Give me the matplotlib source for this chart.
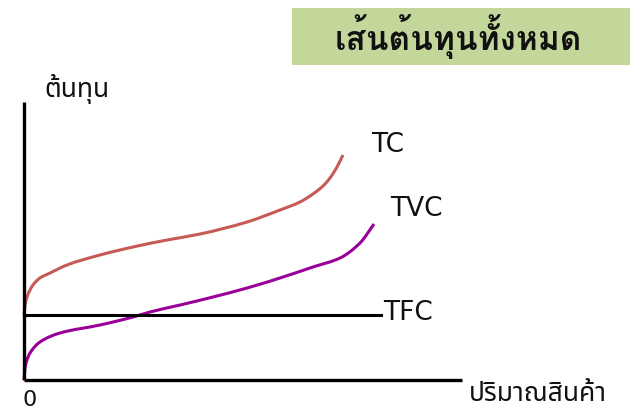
import matplotlib
matplotlib.use("Agg")
import matplotlib.pyplot as plt
from matplotlib import font_manager
from matplotlib.ft2font import FT2Font
from matplotlib.patches import Rectangle, PathPatch
from matplotlib.path import Path

# ---- data (quantity, cost) ----
tc_q = [0, 0.23, 0.68, 2.05, 3.65, 5.94, 9.82, 17.35, 24.89, 32.65, 40.18,
        50.91, 58.45, 63.01, 65.98, 68.26, 69.86, 71.46, 72.83]
tc_c = [14.84, 17.12, 18.95, 21.69, 23.29, 24.43, 26.26, 28.54, 30.37, 31.96, 33.33,
        36.07, 38.81, 40.64, 42.47, 44.29, 46.12, 48.63, 51.37]
tvc_q = [0, 0.23, 0.68, 1.37, 3.65, 8.22, 17.35, 24.89, 28.77, 35.62, 43.15,
         50.91, 58.45, 65.98, 72.15, 76.71, 79.91]
tvc_c = [0, 2.74, 4.57, 6.16, 8.68, 10.73, 12.56, 14.38, 15.53, 17.12, 18.95,
         21.00, 23.29, 25.80, 27.85, 31.28, 35.62]
tfc_q = [0, 81.5]
tfc_c = [14.84, 14.84]

series_labels = ["TC", "TVC", "TFC"]
title_text = "เส้นต้นทุนทั้งหมด"
ylabel_text = "ต้นทุน"
xlabel_text = "ปริมาณสินค้า"
origin_text = "0"

# ---- find a font with Thai glyphs ----
cands = []
for f in font_manager.fontManager.ttflist:
    try:
        cm = FT2Font(f.fname).get_charmap()
    except Exception:
        continue
    if 0x0E01 in cm and 0x0E49 in cm:
        cands.append(f)
pref = ["Noto Sans Thai", "Noto Sans Thai UI", "Loma", "Garuda", "Sarabun", "Tahoma", "Waree", "Umpush", "Kinnari"]
def pick(weight_bold):
    for p in pref:
        for f in cands:
            if f.name == p and ((f.weight in ("bold", 700)) == weight_bold):
                return f.name
    for f in cands:
        if (f.weight in ("bold", 700)) == weight_bold:
            return f.name
    return cands[0].name if cands else None
thai_regular = pick(False)
thai_bold = pick(True) or thai_regular
thai_fam = [thai_regular, "DejaVu Sans"] if thai_regular else ["DejaVu Sans"]
thai_fam_b = [thai_bold, "DejaVu Sans"] if thai_bold else ["DejaVu Sans"]


def smooth_path(xs, ys):
    """Monotone cubic Hermite (Fritsch-Carlson) through the points, as Bezier path."""
    n = len(xs)
    h = [xs[i + 1] - xs[i] for i in range(n - 1)]
    d = [(ys[i + 1] - ys[i]) / h[i] for i in range(n - 1)]
    m = [0.0] * n
    m[0] = d[0]
    m[-1] = d[-1]
    for i in range(1, n - 1):
        if d[i - 1] * d[i] <= 0:
            m[i] = 0.0
        else:
            w1 = 2 * h[i] + h[i - 1]
            w2 = h[i] + 2 * h[i - 1]
            m[i] = (w1 + w2) / (w1 / d[i - 1] + w2 / d[i])
    verts = [(xs[0], ys[0])]
    codes = [Path.MOVETO]
    for i in range(n - 1):
        verts += [(xs[i] + h[i] / 3, ys[i] + m[i] * h[i] / 3),
                  (xs[i + 1] - h[i] / 3, ys[i + 1] - m[i + 1] * h[i] / 3),
                  (xs[i + 1], ys[i + 1])]
        codes += [Path.CURVE4] * 3
    return Path(verts, codes)


W, H = 632, 413
fig = plt.figure(figsize=(W / 100, H / 100), dpi=100)

x0, y0 = 24, 380
scale = 4.38
qmax = 100
cmax = 278 / scale
ax = fig.add_axes([x0 / W, (H - y0) / H, qmax * scale / W, cmax * scale / H])
ax.set_xlim(0, qmax)
ax.set_ylim(0, cmax)
ax.axis("off")

ax.plot([0, 0], [0, cmax], color="black", lw=2.4, clip_on=False, solid_capstyle="butt")
ax.plot([0, qmax], [0, 0], color="black", lw=2.4, clip_on=False, solid_capstyle="butt")

ax.plot(tfc_q, tfc_c, color="black", lw=2.2, clip_on=False)
ax.add_patch(PathPatch(smooth_path(tvc_q, tvc_c), facecolor="none", edgecolor="#990099",
                       lw=2.2, clip_on=False))
ax.add_patch(PathPatch(smooth_path(tc_q, tc_c), facecolor="none", edgecolor="#c65a55",
                       lw=2.2, clip_on=False))

lab_font = ["DejaVu Sans"]
ax.text(79.3, 53.7, series_labels[0], fontsize=19, family=lab_font, ha="left", va="center", color="#111111")
ax.text(83.5, 39.0, series_labels[1], fontsize=19, family=lab_font, ha="left", va="center", color="#111111")
ax.text(81.9, 15.3, series_labels[2], fontsize=19, family=lab_font, ha="left", va="center", color="#111111")

def fx(px):
    return px / W
def fy(py):
    return 1 - py / H

fig.text(fx(30), fy(400), origin_text, fontsize=16, family=lab_font, ha="center", va="center", color="#111111")
fig.text(fx(44), fy(89), ylabel_text, fontsize=19, family=thai_fam, ha="left", va="center", color="#111111")
fig.text(fx(469), fy(394), xlabel_text, fontsize=19, family=thai_fam, ha="left", va="center", color="#111111")

fig.patches.append(Rectangle((fx(292), fy(65)), (630 - 292) / W, (65 - 8) / H,
                             transform=fig.transFigure, facecolor="#c4d79b", edgecolor="none"))
fig.text(fx(458), fy(37), title_text, fontsize=24, family=thai_fam_b, fontweight="bold",
         ha="center", va="center", color="#111111")

fig.savefig("out.png", dpi=100)
